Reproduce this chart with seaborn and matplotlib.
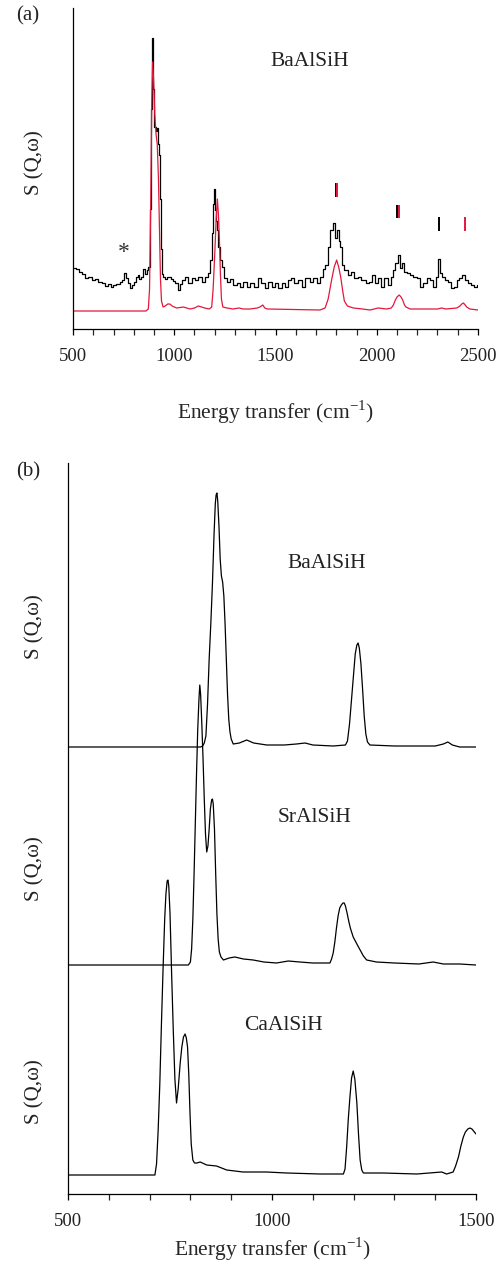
import numpy as np
import pandas as pd
import matplotlib
matplotlib.use("Agg")
import matplotlib.pyplot as plt
import seaborn as sns

# ---------------- Panel (a) data: BaAlSiH experiment (black) & calculation (red)
exp_E = [505, 520, 535, 550, 567, 585, 600, 615, 633, 650, 666, 680, 691, 705, 724, 738,
         748, 758, 768, 778, 786, 796, 806, 815, 823, 832, 840, 851, 860, 867, 877, 884,
         889, 893, 899, 905, 911, 916, 921, 926, 931, 936, 942, 949, 960, 970, 979, 990,
         1000, 1012, 1025, 1035, 1045, 1061, 1078, 1094, 1111, 1127, 1143, 1160, 1173, 1180,
         1188, 1193, 1198, 1204, 1209, 1213, 1222, 1231, 1239, 1250, 1267, 1284, 1300, 1316,
         1333, 1349, 1366, 1382, 1404, 1420, 1440, 1456, 1473, 1489, 1506, 1522, 1539, 1555,
         1572, 1585, 1601, 1621, 1638, 1657, 1679, 1695, 1712, 1728, 1739, 1753, 1766, 1777,
         1789, 1799, 1805, 1810, 1816, 1822, 1832, 1848, 1865, 1881, 1898, 1914, 1934, 1958,
         1970, 1983, 1996, 2012, 2029, 2045, 2062, 2074, 2085, 2098, 2108, 2118, 2128, 2140,
         2156, 2172, 2189, 2205, 2222, 2238, 2255, 2271, 2288, 2300, 2307, 2317, 2329, 2345,
         2362, 2375, 2391, 2403, 2414, 2428, 2441, 2457, 2474, 2490, 2500]
exp_S = [61, 60, 57, 55, 51, 52, 49, 50, 47, 46, 43, 45, 42, 44, 45, 47,
         49, 56, 51, 46, 41, 44, 47, 52, 54, 50, 52, 60, 55, 59, 62, 120,
         220, 291, 240, 202, 198, 201, 185, 174, 130, 80, 55, 52, 50, 52, 52, 50,
         48, 46, 39, 45, 49, 52, 46, 51, 49, 52, 47, 52, 56, 69,
         96, 125, 140, 119, 108, 99, 82, 69, 62, 51, 47, 50, 44, 46,
         42, 47, 42, 46, 42, 51, 46, 41, 47, 42, 46, 41, 46, 42,
         49, 51, 46, 49, 42, 51, 47, 51, 46, 52, 60, 64, 82, 99,
         106, 91, 99, 99, 88, 82, 64, 59, 54, 57, 51, 52, 49, 46,
         47, 54, 46, 51, 42, 51, 44, 52, 59, 66, 74, 61, 66, 57,
         56, 54, 52, 51, 42, 46, 51, 49, 42, 52, 70, 56, 52, 49,
         47, 41, 42, 49, 51, 54, 49, 46, 44, 42, 44]

calc_E = [500, 860, 872, 878, 884, 889, 893, 898, 904, 910, 916, 922, 927, 932, 937, 945,
          955, 968, 978, 990, 1000, 1012, 1045, 1078, 1100, 1119, 1135, 1150, 1173, 1185,
          1192, 1200, 1207, 1213, 1218, 1223, 1228, 1233, 1240, 1260, 1290, 1320, 1340, 1374,
          1410, 1423, 1437, 1447, 1460, 1720, 1745, 1760, 1777, 1790, 1802, 1812, 1822, 1832,
          1840, 1855, 1885, 1930, 1967, 2007, 2049, 2072, 2082, 2092, 2100, 2111, 2120, 2128,
          2137, 2144, 2165, 2300, 2321, 2340, 2395, 2411, 2420, 2428, 2437, 2444, 2460, 2500]
calc_S = [18, 18, 20, 40, 130, 230, 267, 250, 215, 195, 185, 150, 100, 50, 28, 22,
          23, 25, 25, 23, 22, 21, 22, 20, 21, 23, 22, 21, 20, 22,
          40, 75, 110, 130, 115, 90, 55, 30, 22, 21, 20, 21, 20, 20,
          21, 22, 24, 21, 20, 19, 21, 30, 49, 62, 69, 62, 52, 38,
          28, 23, 21, 20, 19, 21, 20, 21, 24, 29, 32, 34, 32, 29,
          24, 22, 20, 20, 21, 20, 21, 23, 25, 26, 24, 22, 20, 19]

# peak markers above the spectrum
mark_E = [1799, 1806, 2102, 2110, 2307, 2437]
mark_lo = [132, 132, 111, 111, 98, 98]
mark_hi = [146, 146, 124, 124, 112, 112]
mark_col = ["black", "red", "black", "red", "black", "red"]

# ---------------- Panel (b) data: calculated spectra, vertically offset
ba_E = [500, 825, 830, 834, 838, 842, 846, 850, 854, 858, 861, 863, 865, 867, 870, 873,
        876, 879, 882, 885, 888, 891, 894, 897, 900, 905, 920, 938, 955, 987, 1030, 1060,
        1081, 1100, 1150, 1180, 1185, 1190, 1195, 1200, 1204, 1208, 1211, 1214, 1218, 1222,
        1226, 1230, 1234, 1240, 1300, 1360, 1400, 1420, 1431, 1442, 1460, 1500]
ba_S = [447, 447, 448, 451, 458, 490, 535, 570, 610, 660, 690, 699, 701, 693, 668, 635,
        618, 612, 598, 570, 535, 500, 475, 462, 455, 450, 451, 454, 451, 449, 449, 450,
        451, 449, 448, 449, 453, 470, 495, 520, 540, 549, 551, 546, 530, 505,
        478, 460, 452, 449, 448, 448, 448, 450, 452, 449, 447, 447]

sr_E = [500, 795, 800, 803, 806, 809, 812, 815, 818, 821, 823, 825, 828, 831, 834, 837,
        840, 843, 846, 849, 852, 854, 856, 859, 862, 865, 868, 871, 875, 881, 895, 909,
        930, 954, 980, 1011, 1040, 1068, 1100, 1142, 1146, 1150, 1154, 1158, 1162, 1166,
        1170, 1174, 1177, 1180, 1184, 1188, 1192, 1199, 1208, 1216, 1224, 1232, 1256, 1300,
        1360, 1395, 1420, 1460, 1500]
sr_S = [229, 229, 232, 245, 275, 320, 370, 420, 465, 495, 509, 500, 470, 435, 395, 360,
        342, 348, 365, 385, 394, 395, 390, 365, 320, 280, 255, 242, 237, 234, 236, 237,
        235, 234, 232, 231, 233, 232, 231, 231, 235, 241, 252, 266, 278, 286,
        289, 291, 291, 288, 281, 273, 266, 257, 250, 244, 238, 234, 232, 231,
        230, 232, 230, 230, 229]

ca_E = [500, 713, 717, 721, 725, 729, 733, 737, 740, 743, 745, 747, 750, 754, 758, 762,
        766, 770, 775, 779, 783, 787, 790, 793, 796, 799, 802, 806, 810, 816, 824, 840,
        864, 889, 929, 986, 1036, 1118, 1175, 1179, 1183, 1187, 1191, 1195, 1199, 1203,
        1208, 1212, 1216, 1220, 1224, 1273, 1355, 1416, 1428, 1444, 1450, 1457, 1463, 1469,
        1474, 1480, 1485, 1490, 1494, 1500]
ca_S = [19, 19, 30, 64, 110, 170, 225, 275, 300, 313, 314, 308, 281, 220, 164, 115,
        91, 105, 131, 147, 157, 160, 156, 147, 120, 81, 50, 34, 31, 31, 32, 29,
        28, 24, 22, 22, 21, 20, 20, 25, 47, 75, 97, 116, 123, 115,
        91, 60, 34, 24, 21, 21, 20, 22, 20, 22, 28, 37, 48, 57,
        62, 65, 66, 65, 63, 60]

labels_b = ["BaAlSiH", "SrAlSiH", "CaAlSiH"]
label_b_E = [1135, 1105, 1027]
label_b_S = [631, 376, 169]

# ---------------- Style
sns.set_theme(style="ticks")
plt.rcParams["font.family"] = ["Liberation Serif", "DejaVu Serif"]
plt.rcParams["axes.linewidth"] = 0.9
plt.rcParams["xtick.major.width"] = 0.9
plt.rcParams["xtick.minor.width"] = 0.9
plt.rcParams["xtick.major.size"] = 4.5
plt.rcParams["xtick.minor.size"] = 4.5
plt.rcParams["xtick.direction"] = "out"
plt.rcParams["text.color"] = "#222222"

RED = "#e2183c"
W, H = 502, 1266
fig = plt.figure(figsize=(W / 100, H / 100), dpi=100)

def px_axes(l, t, r, b):
    return fig.add_axes([l / W, 1 - b / H, (r - l) / W, (b - t) / H])

XLABEL = "Energy transfer (cm$^{\\mathregular{-1}}$)"

# ---------------- Panel (a)
ax1 = px_axes(73, 8, 478, 329)
df_exp = pd.DataFrame({"E": exp_E, "S": exp_S})
df_calc = pd.DataFrame({"E": calc_E, "S": calc_S})
sns.lineplot(data=df_exp, x="E", y="S", ax=ax1, color="black", lw=0.9,
             drawstyle="steps-mid", estimator=None, sort=False)
sns.lineplot(data=df_calc, x="E", y="S", ax=ax1, color=RED, lw=0.9,
             estimator=None, sort=False)
for e, lo, hi, c in zip(mark_E, mark_lo, mark_hi, mark_col):
    ax1.vlines(e, lo, hi, color=RED if c == "red" else "black", lw=1.4)
ax1.set_xlim(500, 2500)
ax1.set_ylim(0, 321)
ax1.set_xticks([500, 1000, 1500, 2000, 2500])
ax1.set_xticks(np.arange(600, 2500, 100), minor=True)
ax1.tick_params(axis="x", labelsize=13.5, pad=9, colors="black", labelcolor="#222222")
ax1.set_yticks([])
ax1.set_xlabel(XLABEL, fontsize=15.5, labelpad=24)
ax1.set_ylabel("")
for s in ["top", "right"]:
    ax1.spines[s].set_visible(False)
ax1.spines["left"].set_color("black")
ax1.spines["bottom"].set_color("black")
ax1.text(1670, 267, "BaAlSiH", fontsize=15.5, ha="center", va="center")
ax1.text(752, 76, "*", fontsize=17, ha="center", va="center", color="#333333")

# ---------------- Panel (b)
ax2 = px_axes(68, 463, 476, 1194)
for E, S in [(ba_E, ba_S), (sr_E, sr_S), (ca_E, ca_S)]:
    sns.lineplot(data=pd.DataFrame({"E": E, "S": S}), x="E", y="S", ax=ax2,
                 color="black", lw=0.9, estimator=None, sort=False)
ax2.set_xlim(500, 1500)
ax2.set_ylim(0, 731)
ax2.set_xticks([500, 1000, 1500])
ax2.set_xticks(np.arange(600, 1500, 100), minor=True)
ax2.tick_params(axis="x", labelsize=13.5, pad=9, colors="black", labelcolor="#222222")
ax2.set_yticks([])
ax2.set_xlabel(XLABEL, fontsize=15.5, labelpad=4)
ax2.set_ylabel("")
for s in ["top", "right"]:
    ax2.spines[s].set_visible(False)
ax2.spines["left"].set_color("black")
ax2.spines["bottom"].set_color("black")
for lab, e, s in zip(labels_b, label_b_E, label_b_S):
    ax2.text(e, s, lab, fontsize=15.5, ha="center", va="center")

# ---------------- Figure texts
fig.text(28 / W, 1 - 16 / H, "(a)", fontsize=15, ha="center", va="center")
fig.text(28 / W, 1 - 472 / H, "(b)", fontsize=15, ha="center", va="center")
for yc in [163, 627, 869, 1092]:
    fig.text(35 / W, 1 - yc / H, "S (Q,\u03c9)", fontsize=15, rotation=90,
             ha="center", va="center")

fig.savefig("out.png", dpi=100)
